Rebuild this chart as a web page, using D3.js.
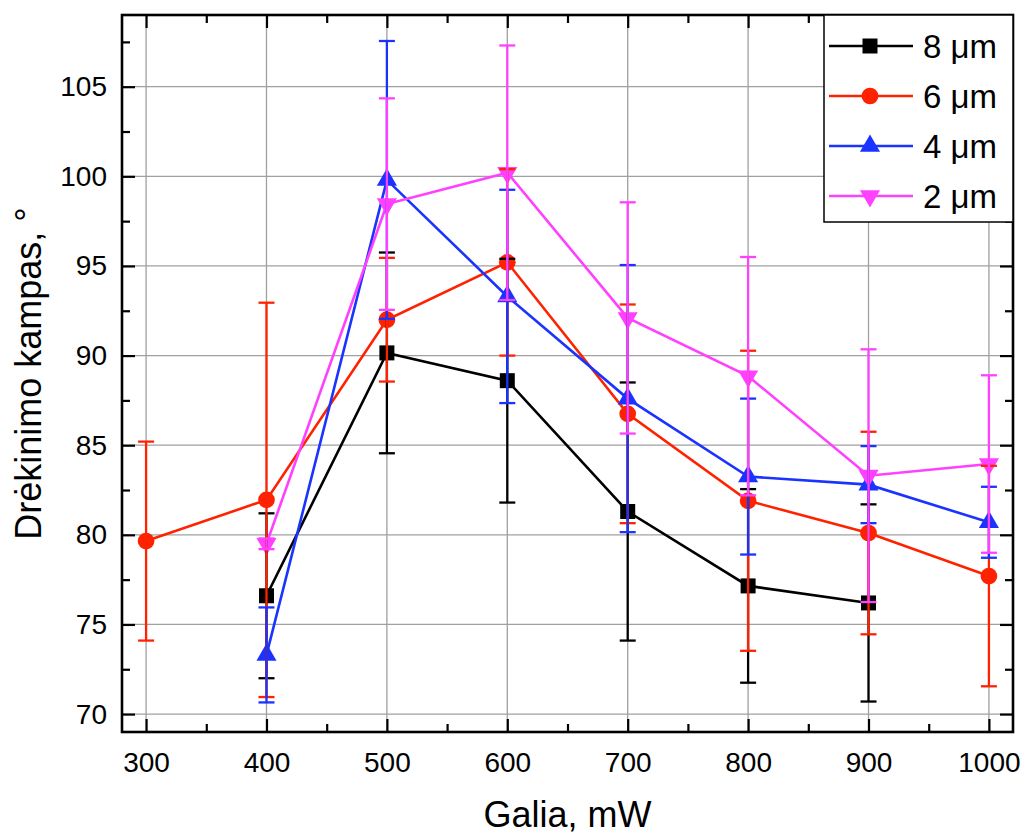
<!DOCTYPE html>
<html>
<head>
<meta charset="utf-8">
<script src="https://cdn.jsdelivr.net/npm/d3@7"></script>
<style>
  body { margin: 0; background: #fff; }
  text { font-family: "Liberation Sans", Arial, sans-serif; fill: #000; }
</style>
</head>
<body>
<svg width="1024" height="834"></svg>
<script>
// Galia (mW) per series
var x8 = [400, 500, 600, 700, 800, 900];
var x6 = [300, 400, 500, 600, 700, 800, 900, 1000];
var x4 = [400, 500, 600, 700, 800, 900, 1000];
var x2 = [400, 500, 600, 700, 800, 900, 1000];

// drėkinimo kampas and errors
var y8 = [76.6, 90.15, 88.6, 81.3, 77.15, 76.2];
var e8 = [4.6, 5.6, 6.8, 7.2, 5.4, 5.5];
var y6 = [79.65, 81.95, 92.0, 95.2, 86.75, 81.9, 80.1, 77.7];
var e6 = [5.55, 11.0, 3.45, 5.2, 6.1, 8.37, 5.65, 6.15];
var y4 = [73.3, 99.8, 93.3, 87.6, 83.25, 82.8, 80.7];
var e4 = [2.65, 7.75, 5.95, 7.45, 4.35, 2.15, 1.98];
var y2 = [79.5, 98.45, 100.2, 92.1, 88.85, 83.3, 83.95];
var e2 = [0.3, 5.9, 7.1, 6.45, 6.65, 7.05, 4.95];

var labels = ["8 μm", "6 μm", "4 μm", "2 μm"];
var xTicks = [300, 400, 500, 600, 700, 800, 900, 1000];
var yTicks = [70, 75, 80, 85, 90, 95, 100, 105];

var series = [
  {name: labels[0], xs: x8, ys: y8, es: e8, color: "#000000", sym: d3.symbolSquare, size: 225, rot: 0},
  {name: labels[1], xs: x6, ys: y6, es: e6, color: "#ff2200", sym: d3.symbolCircle, size: 220, rot: 0},
  {name: labels[2], xs: x4, ys: y4, es: e4, color: "#1a33ff", sym: d3.symbolTriangle, size: 175, rot: 0},
  {name: labels[3], xs: x2, ys: y2, es: e2, color: "#ff40ff", sym: d3.symbolTriangle, size: 175, rot: 180}
];

var svg = d3.select("svg");
var pLeft = 122, pRight = 1013, pTop = 15, pBottom = 732;

var x = d3.scaleLinear().domain([280, 1020]).range([pLeft, pRight]);
var y = d3.scaleLinear().domain([69, 109]).range([pBottom, pTop]);

// grid
var grid = svg.append("g").attr("stroke", "#a0a0a0").attr("stroke-width", 1.3);
xTicks.forEach(function(t) {
  grid.append("line").attr("x1", x(t)).attr("x2", x(t)).attr("y1", pTop).attr("y2", pBottom);
});
yTicks.forEach(function(t) {
  grid.append("line").attr("x1", pLeft).attr("x2", pRight).attr("y1", y(t)).attr("y2", y(t));
});

var xMinor = d3.range(350, 1001, 100);
var yMinor = d3.range(72.5, 108, 5);

function styleAxis(g) {
  g.select(".domain").remove();
  g.selectAll("line").attr("stroke", "#000").attr("stroke-width", 2.2);
  g.selectAll("text").style("font-size", "28px");
}

svg.append("g").attr("transform", "translate(0," + pBottom + ")")
  .call(d3.axisBottom(x).tickValues(xTicks).tickSize(-13).tickPadding(20).tickFormat(d3.format("d")))
  .call(styleAxis);
svg.append("g").attr("transform", "translate(0," + pBottom + ")")
  .call(d3.axisBottom(x).tickValues(xMinor).tickSize(-8).tickFormat(""))
  .call(styleAxis);
svg.append("g").attr("transform", "translate(0," + pTop + ")")
  .call(d3.axisTop(x).tickValues(xTicks).tickSize(-13).tickFormat(""))
  .call(styleAxis);
svg.append("g").attr("transform", "translate(0," + pTop + ")")
  .call(d3.axisTop(x).tickValues(xMinor).tickSize(-8).tickFormat(""))
  .call(styleAxis);

svg.append("g").attr("transform", "translate(" + pLeft + ",0)")
  .call(d3.axisLeft(y).tickValues(yTicks).tickSize(-13).tickPadding(15).tickFormat(d3.format("d")))
  .call(styleAxis);
svg.append("g").attr("transform", "translate(" + pLeft + ",0)")
  .call(d3.axisLeft(y).tickValues(yMinor).tickSize(-8).tickFormat(""))
  .call(styleAxis);
svg.append("g").attr("transform", "translate(" + pRight + ",0)")
  .call(d3.axisRight(y).tickValues(yTicks).tickSize(-13).tickFormat(""))
  .call(styleAxis);
svg.append("g").attr("transform", "translate(" + pRight + ",0)")
  .call(d3.axisRight(y).tickValues(yMinor).tickSize(-8).tickFormat(""))
  .call(styleAxis);

// lines and symbols
var line = d3.line().x(function(d) { return x(d[0]); }).y(function(d) { return y(d[1]); });

series.forEach(function(s) {
  var pts = s.xs.map(function(v, i) { return [v, s.ys[i]]; });
  svg.append("path").datum(pts)
    .attr("d", line)
    .attr("fill", "none")
    .attr("stroke", s.color)
    .attr("stroke-width", 2.6);
  svg.selectAll(null).data(pts).enter().append("path")
    .attr("d", d3.symbol().type(s.sym).size(s.size))
    .attr("transform", function(d) { return "translate(" + x(d[0]) + "," + y(d[1]) + ") rotate(" + s.rot + ")"; })
    .attr("fill", s.color);
});

// error bars on top
series.forEach(function(s) {
  var eb = svg.append("g").attr("stroke", s.color).attr("stroke-width", 2.3);
  s.xs.forEach(function(v, i) {
    var cx = x(v), y1 = y(s.ys[i] + s.es[i]), y0 = y(s.ys[i] - s.es[i]);
    eb.append("line").attr("x1", cx).attr("x2", cx).attr("y1", y1).attr("y2", y0);
    eb.append("line").attr("x1", cx - 8).attr("x2", cx + 8).attr("y1", y1).attr("y2", y1);
    eb.append("line").attr("x1", cx - 8).attr("x2", cx + 8).attr("y1", y0).attr("y2", y0);
  });
});

// frame
svg.append("rect")
  .attr("x", pLeft).attr("y", pTop)
  .attr("width", pRight - pLeft).attr("height", pBottom - pTop)
  .attr("fill", "none").attr("stroke", "#000").attr("stroke-width", 2.6);

// legend
var lg = svg.append("g");
lg.append("rect")
  .attr("x", 824).attr("y", pTop)
  .attr("width", pRight - 824).attr("height", 207)
  .attr("fill", "#fff").attr("stroke", "#000").attr("stroke-width", 1.5);
series.forEach(function(s, i) {
  var ly = 46 + i * 50;
  lg.append("line").attr("x1", 829).attr("x2", 913).attr("y1", ly).attr("y2", ly)
    .attr("stroke", s.color).attr("stroke-width", 2.6);
  lg.append("path")
    .attr("d", d3.symbol().type(s.sym).size(s.size))
    .attr("transform", "translate(870," + ly + ") rotate(" + s.rot + ")")
    .attr("fill", s.color);
  lg.append("text").attr("x", 923).attr("y", ly).attr("dy", "0.36em")
    .style("font-size", "33px").text(s.name);
});

// axis titles
svg.append("text")
  .attr("x", (pLeft + pRight) / 2).attr("y", 827)
  .attr("text-anchor", "middle")
  .style("font-size", "36px")
  .text("Galia, mW");

svg.append("text")
  .attr("transform", "translate(41," + ((pTop + pBottom) / 2) + ") rotate(-90)")
  .attr("text-anchor", "middle")
  .style("font-size", "36px")
  .text("Drėkinimo kampas, °");
</script>
</body>
</html>
